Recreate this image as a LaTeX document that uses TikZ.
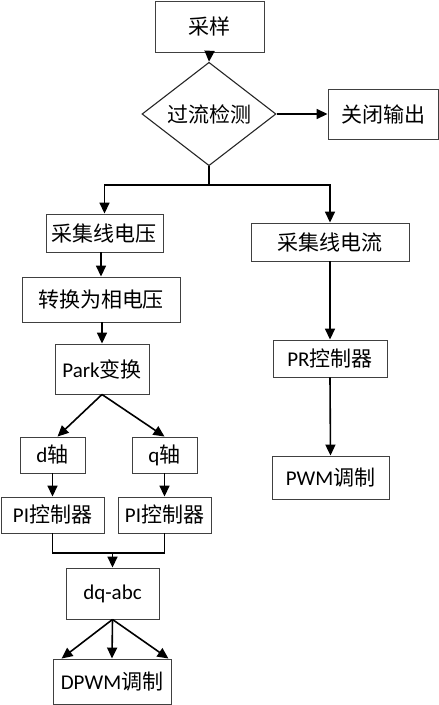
\documentclass[tikz,border=0pt]{standalone}
\usepackage{fontspec}
\setmainfont{Carlito}
\newfontfamily\cjk{Noto Sans CJK SC}
\usetikzlibrary{shapes.geometric,arrows.meta}
\begin{document}
\begin{tikzpicture}[x=1pt,y=-1pt,
  box/.style={draw=black!75,line width=0.9pt,rectangle,inner sep=0pt,font=\fontsize{21}{24}\selectfont,fill=white},
  dia/.style={draw=black!85,line width=1.1pt,diamond,inner sep=0pt,font=\fontsize{21}{24}\selectfont},
  conn/.style={line width=1.6pt,draw=black},
  arr/.style={conn,-{Triangle[length=11pt,width=10pt]}}]
\useasboundingbox (0,0) rectangle (439,705);
\node[box,minimum width=109pt,minimum height=51pt] (cy) at (209.5,26.5) {\cjk 采样};
\node[dia,minimum width=134pt,minimum height=80pt] (jc) at (209,114) {\cjk 过流检测};
\node[box,minimum width=110pt,minimum height=50pt] (gb) at (383,114) {\cjk 关闭输出};
\node[box,minimum width=117pt,minimum height=38pt] (v) at (104.5,233) {\cjk 采集线电压};
\node[box,minimum width=158pt,minimum height=38pt] (i) at (330,242) {\cjk 采集线电流};
\node[box,minimum width=158pt,minimum height=45pt] (ph) at (101,299.5) {\cjk 转换为相电压};
\node[box,minimum width=94pt,minimum height=50pt] (park) at (102,369) {Park{\cjk 变换}};
\node[box,minimum width=114pt,minimum height=37pt] (pr) at (330,358.5) {PR{\cjk 控制器}};
\node[box,minimum width=65pt,minimum height=36pt] (d) at (52.5,455) {d{\cjk 轴}};
\node[box,minimum width=65pt,minimum height=36pt] (q) at (164.5,455) {q{\cjk 轴}};
\node[box,minimum width=117pt,minimum height=43pt] (pwm) at (330.5,477.5) {PWM{\cjk 调制}};
\node[box,minimum width=103pt,minimum height=36pt] (pi1) at (52.5,515) {PI{\cjk 控制器}};
\node[box,minimum width=93pt,minimum height=36pt] (pi2) at (164.5,515) {PI{\cjk 控制器}};
\node[box,minimum width=93pt,minimum height=51pt] (dq) at (112.5,593.5) {dq-abc};
\node[box,minimum width=118pt,minimum height=45pt] (dpwm) at (112,681.5) {DPWM{\cjk 调制}};
\coordinate (br) at (209,185);
\coordinate (mg) at (112.5,553);
\draw[arr] (cy.south) -- (jc.north);
\draw[arr] (jc.east) -- (gb.west);
\draw[conn] (jc.south) -- (br);
\draw[arr] (br) -| (v.north);
\draw[arr] (br) -| (i.north);
\draw[arr] (ph.north |- v.south) -- (ph.north);
\draw[arr] (park.north |- ph.south) -- (park.north);
\draw[arr] (park.south) -- ([xshift=5pt]d.north);
\draw[arr] (park.south) -- (q.north);
\draw[arr] (d.south) -- (pi1.south |- pi1.north);
\draw[arr] (q.south) -- (pi2.south |- pi2.north);
\draw[conn] (pi1.south) |- (mg) -| (pi2.south);
\draw[arr] (mg) -- (dq.north);
\draw[arr] (dq.south) -- ([xshift=9pt]dpwm.north west);
\draw[arr] (dq.south) -- (dpwm.north);
\draw[arr] (dq.south) -- ([xshift=-3pt]dpwm.north east);
\draw[arr] (i.south) -- (pr.north);
\draw[arr] (pr.south) -- (pwm.north);
\end{tikzpicture}
\end{document}
